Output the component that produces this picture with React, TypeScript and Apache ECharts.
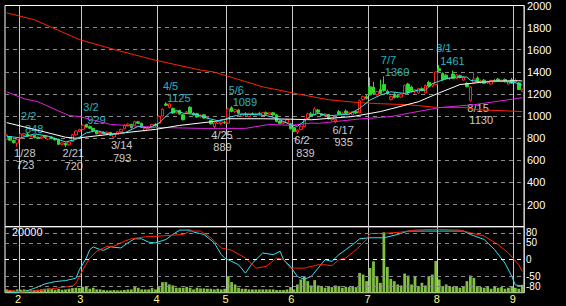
import React, { useEffect, useRef } from 'react';
import * as echarts from 'echarts';

// ---- categories (trading days) ----
const JAN = ['1/25', '1/26', '1/27', '1/28'];
const FEB = ['2/1', '2/2', '2/3', '2/4', '2/7', '2/8', '2/9', '2/10', '2/14', '2/15', '2/16', '2/17', '2/18', '2/21', '2/22', '2/24', '2/25', '2/28'];
const MAR = ['3/1', '3/2', '3/3', '3/4', '3/7', '3/8', '3/9', '3/10', '3/11', '3/14', '3/15', '3/16', '3/17', '3/18', '3/22', '3/23', '3/24', '3/25', '3/28', '3/29', '3/30', '3/31'];
const APR = ['4/1', '4/4', '4/5', '4/6', '4/7', '4/8', '4/11', '4/12', '4/13', '4/14', '4/15', '4/18', '4/19', '4/20', '4/21', '4/22', '4/25', '4/26', '4/27', '4/28'];
const MAY = ['5/2', '5/6', '5/9', '5/10', '5/11', '5/12', '5/13', '5/16', '5/17', '5/18', '5/19', '5/20', '5/23', '5/24', '5/25', '5/26', '5/27', '5/30', '5/31'];
const JUN = ['6/1', '6/2', '6/3', '6/6', '6/7', '6/8', '6/9', '6/10', '6/13', '6/14', '6/15', '6/16', '6/17', '6/20', '6/21', '6/22', '6/23', '6/24', '6/27', '6/28', '6/29', '6/30'];
const JUL = ['7/1', '7/4', '7/5', '7/6', '7/7', '7/8', '7/11', '7/12', '7/13', '7/14', '7/15', '7/19', '7/20', '7/21', '7/22', '7/25', '7/26', '7/27', '7/28', '7/29'];
const AUG = ['8/1', '8/2', '8/3', '8/4', '8/5', '8/8', '8/9', '8/10', '8/12', '8/15', '8/16', '8/17', '8/18', '8/19', '8/22', '8/23', '8/24', '8/25', '8/26', '8/29', '8/30', '8/31'];
const SEP = ['9/1', '9/2', '9/5'];
const dates = [...JAN, ...FEB, ...MAR, ...APR, ...MAY, ...JUN, ...JUL, ...AUG, ...SEP];

// ---- daily prices ----
const opens = [790, 815, 780, 755, 798, 826, 838, 815, 826, 808, 800, 822, 792, 812, 795, 790, 745, 755, 740, 770, 830, 862,
  880, 925, 905, 888, 865, 838, 855, 840, 852, 812, 835, 858, 885, 912, 925, 920, 948, 935, 870, 890, 895, 925,
  935, 1000, 1110, 1078, 1070, 1030, 1050, 1012, 1030, 1080, 1025, 1022, 992, 1012, 982, 960, 905, 935, 935, 945,
  935, 1075, 1040, 1055, 1000, 1022, 995, 1022, 1012, 1025, 1005, 1030, 1015, 1030, 1012, 955, 935, 940, 930,
  895, 855, 880, 905, 975, 1020, 1010, 1055, 1020, 1005, 1015, 968, 955, 1040, 1020, 1045, 1025, 1010, 1040, 1030, 1150, 1175,
  1265, 1262, 1195, 1240, 1285, 1225, 1150, 1200, 1185, 1172, 1205, 1290, 1262, 1220, 1210, 1248, 1210, 1305, 1275, 1285,
  1428, 1385, 1370, 1340, 1380, 1340, 1365, 1325, 1295, 1140, 1305, 1345, 1310, 1325, 1300, 1290, 1322, 1335, 1318, 1330, 1290, 1328,
  1310, 1300, 1225];
const highs = [835, 820, 788, 795, 843, 848, 845, 830, 830, 815, 818, 828, 822, 818, 805, 795, 765, 762, 772, 838, 872, 885,
  925, 929, 915, 895, 870, 858, 862, 860, 858, 842, 862, 885, 925, 935, 930, 958, 955, 940, 895, 905, 930, 935,
  1005, 1070, 1125, 1118, 1075, 1052, 1058, 1018, 1045, 1090, 1035, 1030, 1015, 1020, 998, 965, 945, 958, 955, 960,
  1075, 1089, 1065, 1062, 1030, 1035, 1030, 1035, 1030, 1040, 1035, 1042, 1035, 1035, 1018, 962, 950, 975, 940,
  905, 880, 915, 980, 1030, 1035, 1080, 1065, 1025, 1025, 1020, 990, 978, 1055, 1035, 1060, 1040, 1045, 1050, 1150, 1185, 1190,
  1350, 1310, 1230, 1330, 1360, 1240, 1185, 1212, 1195, 1205, 1285, 1300, 1275, 1245, 1255, 1260, 1285, 1320, 1300, 1405,
  1461, 1395, 1380, 1352, 1413, 1380, 1375, 1360, 1305, 1270, 1398, 1360, 1330, 1335, 1320, 1330, 1335, 1345, 1330, 1340, 1320, 1345,
  1340, 1310, 1250];
const lows = [785, 775, 752, 723, 792, 815, 812, 808, 800, 795, 796, 805, 788, 792, 780, 738, 735, 720, 732, 765, 822, 855,
  875, 895, 885, 862, 835, 832, 838, 835, 820, 793, 830, 852, 880, 905, 888, 915, 930, 895, 862, 882, 890, 905,
  930, 995, 1090, 1070, 1020, 1022, 1012, 960, 1025, 1020, 1005, 985, 985, 975, 970, 925, 889, 928, 920, 930,
  930, 1035, 1030, 1018, 995, 1005, 990, 1008, 1005, 1015, 1000, 1012, 1010, 1005, 945, 928, 925, 935, 878,
  855, 839, 872, 900, 970, 1000, 1005, 1030, 1000, 995, 970, 955, 935, 1010, 1008, 1020, 1010, 1005, 1020, 1025, 1140, 1150,
  1185, 1195, 1185, 1195, 1220, 1195, 1140, 1160, 1165, 1165, 1200, 1200, 1215, 1205, 1200, 1225, 1205, 1265, 1260, 1280,
  1400, 1320, 1330, 1325, 1335, 1335, 1340, 1320, 1260, 1130, 1295, 1300, 1295, 1290, 1290, 1285, 1305, 1310, 1305, 1305, 1285, 1290,
  1298, 1235, 1218];
const closes = [828, 782, 760, 790, 838, 842, 818, 824, 805, 800, 812, 808, 815, 796, 785, 745, 758, 738, 765, 832, 865, 880,
  918, 900, 890, 868, 840, 852, 842, 855, 826, 836, 858, 880, 918, 928, 895, 950, 935, 900, 890, 900, 925, 912,
  998, 1062, 1098, 1110, 1028, 1045, 1018, 968, 1040, 1028, 1012, 992, 1008, 982, 990, 930, 938, 950, 948, 938,
  1065, 1042, 1058, 1025, 1022, 1012, 1025, 1015, 1025, 1020, 1030, 1018, 1030, 1010, 952, 935, 945, 965, 885,
  862, 875, 908, 972, 1020, 1008, 1065, 1035, 1005, 1018, 975, 985, 972, 1018, 1028, 1025, 1035, 1040, 1028, 1140, 1175, 1160,
  1192, 1205, 1222, 1205, 1232, 1200, 1178, 1168, 1172, 1198, 1278, 1210, 1222, 1238, 1248, 1232, 1278, 1270, 1292, 1398,
  1410, 1328, 1338, 1345, 1342, 1372, 1350, 1352, 1266, 1262, 1335, 1310, 1318, 1298, 1312, 1322, 1312, 1318, 1325, 1312, 1315, 1298,
  1322, 1240, 1242];
const volumes = [1000, 800, 700, 1000, 900, 1000, 800, 700, 800, 900, 1000, 1200, 1300, 1100, 900, 1100, 900, 1000, 1200, 1400, 1500, 1400,
  1800, 2000, 1200, 1500, 1000, 1000, 800, 700, 700, 800, 700, 700, 800, 1000, 1000, 1700, 1500, 1000, 1000, 1000, 1400, 1000,
  1700, 3200, 3200, 2500, 2200, 1500, 1500, 1500, 1800, 1500, 1000, 1500, 1300, 1300, 1200, 1200, 1000, 1200, 1000, 1200,
  5000, 3200, 2500, 1500, 1200, 1200, 1000, 1000, 1000, 1000, 1000, 1000, 1000, 1000, 800, 800, 800, 1000, 1700,
  1000, 2500, 4000, 5000, 3500, 2200, 3800, 2200, 2000, 1500, 2000, 1700, 2200, 2000, 1500, 1800, 1700, 2000, 1700, 6000, 5500, 3500,
  7500, 9500, 5000, 3000, 18300, 7800, 4200, 3500, 2500, 2200, 5800, 5200, 2500, 4800, 2000, 3000, 2200, 5000, 5500, 9600,
  4000, 2000, 2500, 2000, 1800, 2000, 1500, 2000, 3500, 5200, 4500, 2000, 1700, 1500, 1800, 1200, 2000, 1500, 1700, 1200, 1500, 1700,
  1500, 1200, 2400];

// ---- moving averages: [day index, price] ----
const maLong = [[0, 1933], [8, 1871], [21, 1692], [32, 1594], [43, 1505], [56, 1416], [60, 1398], [74, 1264], [84, 1201],
  [93, 1148], [102, 1121], [108, 1112], [116, 1103], [125, 1077], [133, 1077], [135, 1059], [142, 1050], [149, 1041]];
const maMid = [[0, 1220], [5, 1157], [9, 1130], [18, 1005], [21, 996], [30, 925], [43, 898], [56, 889], [69, 889], [76, 925],
  [82, 916], [88, 937], [90, 934], [102, 974], [108, 988], [111, 996], [125, 1077], [135, 1103], [149, 1166]];
const maShort = [[0, 941], [8, 880], [17, 809], [20, 800], [30, 836], [43, 880], [50, 916], [60, 952], [64, 976], [74, 976],
  [82, 972], [88, 967], [100, 996], [108, 1041], [111, 1065], [119, 1130], [125, 1210], [131, 1285], [140, 1315], [148, 1320], [149, 1317]];
const maFast = [[0, 818], [4, 803], [8, 839], [12, 818], [17, 767], [20, 789], [23, 848], [26, 869], [30, 833], [34, 848],
  [38, 907], [41, 892], [44, 937], [47, 1026], [49, 1050], [51, 1026], [55, 1014], [58, 981], [61, 958], [63, 970], [65, 996],
  [68, 1017], [72, 1014], [75, 1005], [78, 981], [82, 922], [84, 907], [88, 1003], [90, 1026], [93, 1003], [96, 1011], [99, 1017],
  [102, 1070], [105, 1145], [108, 1190], [111, 1220], [115, 1205], [119, 1235], [121, 1235], [123, 1294], [127, 1338], [130, 1353],
  [133, 1353], [134, 1324], [137, 1309], [143, 1315], [147, 1302], [149, 1279]];

// ---- oscillators (lower panel): [day index, value] ----
const oscCyan = [[0, -92], [2, -98], [5, -95], [8, -85], [11, -72], [14, -65], [17, -62], [20, -55], [21, -30], [23, 5], [24, 30],
  [25, 38], [27, 30], [28, 28], [30, 38], [33, 35], [35, 50], [37, 62], [39, 62], [41, 52], [43, 50], [46, 60], [48, 75], [50, 88],
  [53, 88], [54, 82], [57, 75], [60, 50], [62, 15], [63, 5], [65, -5], [67, -15], [69, -40], [71, -10], [74, 20], [77, 15], [79, 25],
  [80, 0], [82, -20], [84, -50], [86, -58], [88, -50], [90, -25], [92, 0], [94, -5], [96, 15], [98, 30], [100, 45], [102, 62],
  [105, 65], [109, 65], [113, 75], [116, 85], [121, 85], [125, 85], [132, 85], [134, 75], [138, 60], [141, 30], [144, -10],
  [146, -50], [147, -75], [149, -78]];
const oscRed = [[0, -90], [4, -96], [9, -92], [14, -85], [19, -78], [20, -70], [22, -30], [24, 5], [26, 25], [29, 40], [31, 40],
  [34, 55], [36, 62], [40, 68], [44, 70], [51, 75], [53, 85], [56, 85], [59, 65], [62, 35], [65, 28], [69, 5], [72, -25], [75, -20],
  [78, 5], [80, 0], [82, -25], [86, -25], [90, -15], [92, -15], [94, -18], [96, 0], [98, 5], [101, 30], [104, 60], [105, 78],
  [109, 78], [114, 82], [118, 88], [123, 90], [125, 90], [131, 88], [134, 80], [138, 70], [142, 45], [145, 20], [148, -15], [149, -35]];
const oscLevels = [80, 50, 0, -50, -80];

// ---- annotations ----
const highMarks = [['2/2', 848], ['3/2', 929], ['4/5', 1125], ['5/6', 1089], ['7/7', 1360], ['8/1', 1461]];
const lowMarks = [['1/28', 723], ['2/21', 720], ['3/14', 793], ['4/25', 889], ['6/2', 839], ['6/17', 935], ['8/15', 1130]];

const FONT = "'Liberation Sans Narrow', 'Liberation Sans', Arial, sans-serif";
const CYAN = '#33e0f0';
const RED = '#ff2200';

const isMonthStart = (i: number) => i > 0 && dates[i].split('/')[0] !== dates[i - 1].split('/')[0];

export default function App() {
  const ref = useRef<HTMLDivElement>(null);
  useEffect(() => {
    document.body.style.margin = '0';
    const chart = echarts.init(ref.current!, undefined, { renderer: 'svg' });
    const candles = dates.map((_, i) => [opens[i], closes[i], lows[i], highs[i]]);
    const lineBase = (data: number[][], color: string, x: number, y: number) => ({
      type: 'line', data, xAxisIndex: x, yAxisIndex: y, showSymbol: false, silent: true,
      lineStyle: { color, width: 1 }, itemStyle: { color },
    });
    const LH = 12.5;
    const labelRich = (color: string, indent: number) => ({
      d: { color, fontSize: 11, lineHeight: LH, fontFamily: FONT },
      v: { color, fontSize: 11, lineHeight: LH, fontFamily: FONT, padding: [0, 0, 0, indent] },
    });
    const option: any = {
      animation: false,
      backgroundColor: '#000',
      textStyle: { fontFamily: FONT },
      grid: [
        { left: 5, top: 2.5, width: 519, height: 224.2, show: true, borderColor: '#fff', borderWidth: 1, backgroundColor: 'transparent' },
        { left: 5, top: 226.7, width: 519, height: 66, show: true, borderColor: '#fff', borderWidth: 1, backgroundColor: 'transparent' },
      ],
      xAxis: [
        {
          type: 'category', gridIndex: 0, data: dates, boundaryGap: true,
          axisLine: { show: false }, axisTick: { show: false }, axisLabel: { show: false },
          splitLine: { show: true, interval: (i: number) => isMonthStart(i), lineStyle: { color: '#c8c8c8', width: 1 } },
        },
        {
          type: 'category', gridIndex: 1, data: dates, boundaryGap: true,
          axisLine: { show: false }, axisTick: { show: false },
          axisLabel: {
            show: true, interval: (i: number) => isMonthStart(i), formatter: (v: string) => v.split('/')[0],
            color: '#ffff80', fontSize: 11, margin: 1, padding: [0, 5, 0, 0], fontFamily: FONT,
          },
          splitLine: { show: true, interval: (i: number) => isMonthStart(i), lineStyle: { color: '#c8c8c8', width: 1 } },
        },
      ],
      yAxis: [
        {
          type: 'value', gridIndex: 0, position: 'right', min: 0, max: 2000, interval: 200,
          axisLine: { show: false }, axisTick: { show: false },
          axisLabel: { color: '#fff', fontSize: 11, margin: 3, padding: [4, 0, 0, 0], fontFamily: FONT, formatter: (v: number) => (v === 0 ? '' : String(v)) },
          splitLine: { show: true, showMinLine: false, showMaxLine: false, lineStyle: { color: '#8a8a8a', width: 1, type: [4, 4] } },
        },
        { type: 'value', gridIndex: 1, min: -98, max: 98, show: false, splitLine: { show: false } },
        {
          type: 'value', gridIndex: 1, position: 'left', min: 0, max: 20000, interval: 20000,
          axisLine: { show: false }, axisTick: { show: false }, splitLine: { show: false },
          axisLabel: { inside: true, margin: 7, color: '#fff', fontSize: 11, verticalAlign: 'top', fontFamily: FONT, formatter: (v: number) => (v === 20000 ? '20000' : '') },
        },
      ],
      series: [
        lineBase(maLong, RED, 0, 0),
        lineBase(maMid, '#e020e0', 0, 0),
        lineBase(maShort, '#ffffff', 0, 0),
        lineBase(maFast, CYAN, 0, 0),
        {
          type: 'candlestick', xAxisIndex: 0, yAxisIndex: 0, data: candles, barWidth: 3, silent: true,
          itemStyle: { color: '#000', color0: '#30d830', borderColor: '#ff2020', borderColor0: '#30d830', borderWidth: 1 },
        },
        {
          type: 'scatter', xAxisIndex: 0, yAxisIndex: 0, symbolSize: 0, silent: true,
          data: highMarks.map(([d, v]) => ({ name: d, value: [d, v] })),
          label: {
            show: true, position: 'top', distance: 0, align: 'left', offset: [-3, 2], color: CYAN, fontSize: 11, lineHeight: LH,
            fontFamily: FONT,
            formatter: (p: any) => `{d|${p.name}}\n{v|${p.value[1]}}`,
            rich: labelRich(CYAN, 4),
          },
        },
        {
          type: 'scatter', xAxisIndex: 0, yAxisIndex: 0, symbolSize: 0, silent: true,
          data: lowMarks.map(([d, v]) => ({ name: d, value: [d, v] })),
          label: {
            show: true, position: 'bottom', distance: 0, align: 'left', offset: [-3, 0], color: '#fff', fontSize: 11, lineHeight: LH,
            fontFamily: FONT,
            formatter: (p: any) => `{d|${p.name}}\n{v|${p.value[1]}}`,
            rich: labelRich('#fff', 2),
          },
        },
        {
          type: 'bar', xAxisIndex: 1, yAxisIndex: 2, data: volumes, barCategoryGap: '20%', silent: true,
          itemStyle: { color: '#80c040' },
        },
        {
          ...lineBase(oscCyan, CYAN, 1, 1),
          markLine: {
            silent: true, symbol: 'none',
            label: { show: true, position: 'end', distance: 2, color: '#fff', fontSize: 10, fontFamily: FONT, formatter: (p: any) => String(p.value) },
            lineStyle: { color: '#8a8a8a', width: 1, type: [4, 4] },
            data: oscLevels.map((v) => ({ yAxis: v, lineStyle: { color: v === 0 ? '#ffffff' : '#8a8a8a', width: 1, type: [4, 4] } })),
          },
        },
        lineBase(oscRed, RED, 1, 1),
      ],
    };
    chart.setOption(option);
    return () => chart.dispose();
  }, []);
  return <div ref={ref} style={{ position: 'fixed', left: 0, top: 0, width: 566, height: 306, background: '#000' }} />;
}
